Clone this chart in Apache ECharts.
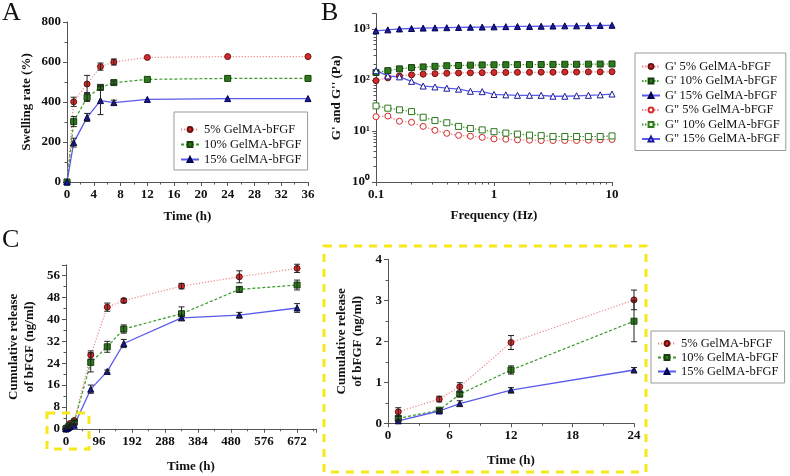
<!DOCTYPE html>
<html>
<head>
<meta charset="utf-8">
<title>GelMA-bFGF</title>
<script src="https://cdn.jsdelivr.net/npm/echarts@6/dist/echarts.min.js"></script>
<style>
  html, body { margin: 0; padding: 0; background: #fff; }
  #main { width: 790px; height: 476px; }
</style>
</head>
<body>
<div id="main"></div>
<script>
// A: swelling rate
const swellTime = [0, 1, 3, 5, 7, 12, 24, 36];
const swell5 = [0, 401, 490, 577, 600, 623, 627, 627];
const swell10 = [0, 302, 423, 473, 497, 513, 518, 518];
const swell15 = [0, 197, 323, 407, 397, 413, 417, 417];
const swell5Sd = [0, 23, 43, 18, 15, 0, 0, 0];
const swell10Sd = [0, 25, 20, 12, 8, 0, 0, 0];
const swell15Sd = [0, 22, 20, 70, 12, 0, 0, 0];

// B: rheology
const freq = [0.1, 0.126, 0.158, 0.2, 0.251, 0.316, 0.398, 0.501, 0.631, 0.794, 1, 1.26, 1.58, 2, 2.51, 3.16, 3.98, 5.01, 6.31, 7.94, 10];
const gp5 = [97, 110, 120, 126, 130, 133, 135, 137, 138, 139, 140, 140, 141, 141, 142, 142, 143, 143, 144, 144, 145];
const gp10 = [140, 152, 165, 175, 180, 185, 190, 192, 195, 197, 198, 199, 200, 200, 201, 202, 203, 203, 204, 205, 206];
const gp15 = [920, 960, 1000, 1020, 1040, 1050, 1060, 1070, 1080, 1090, 1100, 1110, 1120, 1120, 1130, 1140, 1150, 1150, 1160, 1170, 1180];
const gpp5 = [19, 19.6, 15.5, 14.8, 12.3, 10.3, 9, 8.2, 7.9, 7.5, 7, 6.9, 6.7, 6.6, 6.5, 6.5, 6.5, 6.5, 6.6, 6.7, 6.8];
const gpp10 = [31, 28, 26, 24, 18.6, 16, 14.5, 12.3, 11.2, 10.5, 9.7, 9.1, 8.7, 8.3, 8.1, 7.8, 7.8, 7.8, 7.8, 7.8, 8.0];
const gpp15 = [152, 120, 115, 94, 76, 73, 69, 66, 60, 59, 52, 51, 50, 50, 50, 48, 48, 49, 50, 51, 53];

// C: cumulative release
const relTime = [0, 1, 5, 7, 12, 24, 72, 120, 168, 336, 504, 672];
const rel5 = [0, 0.28, 0.59, 0.89, 1.97, 3.01, 27.0, 44.5, 46.9, 52.2, 55.6, 58.7];
const rel10 = [0, 0.12, 0.32, 0.71, 1.3, 2.49, 24.3, 30.0, 36.5, 42.1, 51.0, 52.6];
const rel15 = [0, 0.06, 0.3, 0.48, 0.81, 1.3, 14.5, 21.0, 31.2, 40.6, 41.6, 44.2];
const rel5Sd = [0, 0.1, 0.07, 0.1, 0.17, 0.24, 1.5, 1.5, 0.8, 1.0, 2.2, 1.5];
const rel10Sd = [0, 0.05, 0.04, 0.05, 0.1, 0.5, 3.5, 2.0, 1.5, 2.5, 1.0, 1.8];
const rel15Sd = [0, 0.02, 0.03, 0.07, 0.06, 0.06, 1.5, 0.5, 1.5, 1.0, 1.0, 1.6];

const names = ['5% GelMA-bFGF', '10% GelMA-bFGF', '15% GelMA-bFGF'];
const namesB = ["G' 5% GelMA-bFGF", "G' 10% GelMA-bFGF", "G' 15% GelMA-bFGF",
  'G" 5% GelMA-bFGF', 'G" 10% GelMA-bFGF', 'G" 15% GelMA-bFGF'];

const font = 'Liberation Serif';
const styles = [
  { symbol: 'circle', fill: '#d22b2b', edge: '#6b1010', line: '#ee8a8a', dash: [1.2, 1.8], width: 1.2 },
  { symbol: 'rect', fill: '#2d7a1c', edge: '#163f0c', line: '#3c9a2c', dash: [3, 2], width: 1.2 },
  { symbol: 'triangle', fill: '#1a1a9a', edge: '#000050', line: '#5a5aec', dash: 'solid', width: 1.3 }
];

function zip(xs, ys) { return xs.map((x, i) => [x, ys[i]]); }

function lineSeries(name, xs, ys, st, idx, open, size) {
  return {
    type: 'line', name: name, data: zip(xs, ys),
    xAxisIndex: idx, yAxisIndex: idx,
    symbol: st.symbol, symbolSize: size || 6, showAllSymbol: true,
    lineStyle: { color: st.line, width: st.width, type: st.dash },
    itemStyle: { color: open ? '#fff' : st.fill, borderColor: open ? st.fill : st.edge, borderWidth: 1, opacity: 1 },
    emphasis: { disabled: true },
    animation: false, z: 2
  };
}

function errRender(params, api) {
  const x = api.value(0);
  const top = api.coord([x, api.value(2)]);
  const bot = api.coord([x, api.value(1)]);
  const w = 3;
  const st = { stroke: '#222', lineWidth: 1 };
  return {
    type: 'group', children: [
      { type: 'line', shape: { x1: top[0], y1: top[1], x2: bot[0], y2: bot[1] }, style: st },
      { type: 'line', shape: { x1: top[0] - w, y1: top[1], x2: top[0] + w, y2: top[1] }, style: st },
      { type: 'line', shape: { x1: bot[0] - w, y1: bot[1], x2: bot[0] + w, y2: bot[1] }, style: st }
    ]
  };
}

function errSeries(xs, ys, sd, idx) {
  const d = [];
  xs.forEach((x, i) => { if (sd[i] > 0) d.push([x, ys[i] - sd[i], ys[i] + sd[i]]); });
  return {
    type: 'custom', renderItem: errRender, data: d,
    xAxisIndex: idx, yAxisIndex: idx, encode: { x: 0, y: [1, 2] },
    silent: true, animation: false, z: 3
  };
}

const axisLine = { show: true, lineStyle: { color: '#555', width: 1 } };
const tick = { show: true, length: 4, lineStyle: { color: '#555' } };
const minor = { show: true, splitNumber: 2, length: 2.5, lineStyle: { color: '#555' } };
const labelBase = { fontFamily: font, fontWeight: 'bold', fontSize: 13, color: '#111' };
const nameBase = { fontFamily: font, fontWeight: 'bold', fontSize: 13, color: '#111', lineHeight: 16 };

function valueAxis(o) {
  return Object.assign({
    type: 'value', axisLine: axisLine, axisTick: tick, minorTick: minor,
    splitLine: { show: false }, nameLocation: 'middle', nameTextStyle: nameBase,
    axisLabel: Object.assign({ margin: 6 }, labelBase)
  }, o);
}

function onStep(step) {
  return v => (Math.abs(v / step - Math.round(v / step)) < 1e-6 ? String(v) : '');
}

const sup = ['\u2070', '\u00b9', '\u00b2', '\u00b3'];

const grids = [
  { left: 67, top: 22, width: 241, height: 160 },
  { left: 376, top: 13.6, width: 236, height: 168.4 },
  { left: 66, top: 264.8, width: 250, height: 164 },
  { left: 388, top: 259.3, width: 246, height: 164 }
].map(g => Object.assign({ outerBoundsMode: 'none', containLabel: false }, g));

const logMinor = { show: true, splitNumber: 9, length: 2.5, lineStyle: { color: '#555' } };

const xAxes = [
  valueAxis({ gridIndex: 0, min: 0, max: 36, interval: 4, name: 'Time (h)', nameGap: 27 }),
  {
    type: 'log', logBase: 10, gridIndex: 1, min: 0.1, max: 10,
    axisLine: axisLine, axisTick: tick, minorTick: logMinor, splitLine: { show: false },
    axisLabel: Object.assign({ margin: 6 }, labelBase),
    name: 'Frequency (Hz)', nameLocation: 'middle', nameGap: 26, nameTextStyle: nameBase
  },
  valueAxis({ gridIndex: 2, min: 0, max: 727, interval: 96, name: 'Time (h)', nameGap: 30,
    axisLabel: Object.assign({ margin: 6, formatter: onStep(96) }, labelBase) }),
  valueAxis({ gridIndex: 3, min: 0, max: 24, interval: 6, name: 'Time (h)', nameGap: 29 })
];

const yAxes = [
  valueAxis({ gridIndex: 0, min: 0, max: 800, interval: 200, name: 'Swelling rate (%)', nameGap: 32 }),
  {
    type: 'log', logBase: 10, gridIndex: 1, min: 1, max: 2000,
    axisLine: axisLine, axisTick: tick, minorTick: logMinor, splitLine: { show: false },
    axisLabel: Object.assign({
      margin: 6,
      formatter: v => {
        const e = Math.log10(v);
        return Math.abs(e - Math.round(e)) < 1e-6 ? '10' + sup[Math.round(e)] : '';
      }
    }, labelBase),
    name: "G' and G'' (Pa)", nameLocation: 'middle', nameGap: 31, nameTextStyle: nameBase
  },
  valueAxis({ gridIndex: 2, min: 0, max: 60, interval: 8, name: 'Cumulative release\nof bFGF (ng/ml)', nameGap: 28,
    axisLabel: Object.assign({ margin: 6, formatter: onStep(8) }, labelBase) }),
  valueAxis({ gridIndex: 3, min: 0, max: 4, interval: 1, name: 'Cumulative release\nof bFGF (ng/ml)', nameGap: 22 })
];

const series = [];
// A
[swell5, swell10, swell15].forEach((ys, k) => series.push(lineSeries(names[k], swellTime, ys, styles[k], 0)));
[[swell5, swell5Sd], [swell10, swell10Sd], [swell15, swell15Sd]].forEach(p => series.push(errSeries(swellTime, p[0], p[1], 0)));
// B
const dotB = { dash: [1.5, 1.5] };
[gp5, gp10, gp15].forEach((ys, k) => series.push(lineSeries(namesB[k], freq, ys, Object.assign({}, styles[k], k < 2 ? dotB : {}), 1, false, 6)));
[gpp5, gpp10, gpp15].forEach((ys, k) => series.push(lineSeries(namesB[k + 3], freq, ys, Object.assign({}, styles[k], k < 2 ? dotB : {}), 1, true, 6)));
// C full
[rel5, rel10, rel15].forEach((ys, k) => series.push(lineSeries(names[k], relTime, ys, styles[k], 2)));
[[rel5, rel5Sd], [rel10, rel10Sd], [rel15, rel15Sd]].forEach(p => series.push(errSeries(relTime, p[0], p[1], 2)));
// C first 24 h
const early = relTime.slice(1, 6);
[rel5, rel10, rel15].forEach((ys, k) => series.push(lineSeries(names[k], early, ys.slice(1, 6), styles[k], 3)));
[[rel5, rel5Sd], [rel10, rel10Sd], [rel15, rel15Sd]].forEach(p => series.push(errSeries(early, p[0].slice(1, 6), p[1].slice(1, 6), 3)));

function legend(o) {
  return Object.assign({
    orient: 'vertical', itemGap: 2, itemWidth: 18, itemHeight: 6,
    borderColor: '#999', borderWidth: 1,
    textStyle: { fontFamily: font, fontSize: 12.5, color: '#111' },
    selectedMode: false
  }, o);
}

const yellow = { stroke: '#f7e81a', lineWidth: 3, lineDash: [8, 7], fill: 'none' };

const option = {
  animation: false,
  backgroundColor: '#fff',
  grid: grids,
  xAxis: xAxes,
  yAxis: yAxes,
  series: series,
  legend: [
    legend({ left: 174, top: 112, padding: [11, 6, 4, 6], data: names }),
    legend({ left: 635, top: 53, padding: [7, 6, 5, 6], itemGap: 1.5, data: namesB }),
    legend({ left: 651, top: 331, padding: [6, 6, 5, 6], itemGap: 1, data: names })
  ],
  graphic: [
    { type: 'text', left: 2, top: 0, style: { text: 'A', fontFamily: font, fontSize: 26, fill: '#111' } },
    { type: 'text', left: 321, top: 0, style: { text: 'B', fontFamily: font, fontSize: 26, fill: '#111' } },
    { type: 'text', left: 2, top: 227, style: { text: 'C', fontFamily: font, fontSize: 26, fill: '#111' } },
    { type: 'rect', shape: { x: 47, y: 413, width: 42, height: 36 }, style: yellow, z: 10 },
    { type: 'rect', shape: { x: 324, y: 246, width: 322, height: 226 }, style: yellow, z: 10 }
  ]
};

const chart = echarts.init(document.getElementById('main'), null, { renderer: 'canvas' });
chart.setOption(option);
</script>
</body>
</html>
